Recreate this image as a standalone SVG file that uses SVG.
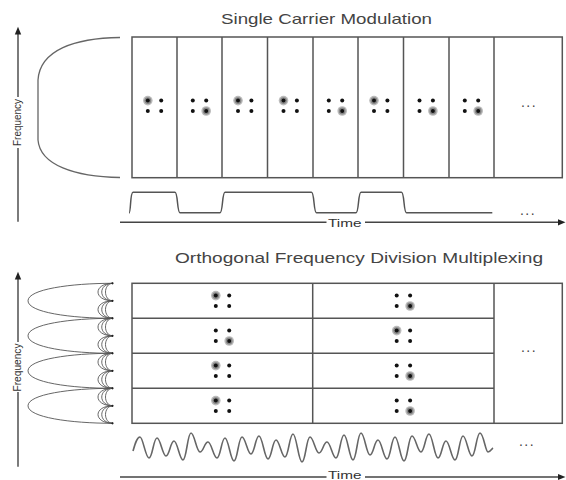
<svg xmlns="http://www.w3.org/2000/svg" xmlns:xlink="http://www.w3.org/1999/xlink" width="566" height="480" viewBox="0 0 566 480">
<style>
.bg{fill:#fff}
.grid{fill:none;stroke:#555;stroke-width:1.5}
.axis{fill:none;stroke:#444;stroke-width:1.4}
.head{fill:#222}
.curve{fill:none;stroke:#666;stroke-width:1.3}
.sinc{fill:none;stroke:#555;stroke-width:0.9}
.wave{fill:none;stroke:#666;stroke-width:1.6}
.title{font-family:"Liberation Sans",Arial,sans-serif;font-size:15px;fill:#444}
.lbl{font-family:"Liberation Sans",Arial,sans-serif;font-size:11.5px;fill:#333}
.dots{font-family:"Liberation Sans",Arial,sans-serif;font-size:14px;fill:#444;text-anchor:middle;letter-spacing:1.5px}
</style>
<defs>
<g id="dot"><circle r="2" fill="#111"/></g>
<g id="hl"><circle r="4.8" fill="#bbb"/><circle r="3.4" fill="#888"/><circle r="2" fill="#111"/></g>
<g id="ctl"><use xlink:href="#hl" x="-6.7" y="-5.2"/><use xlink:href="#dot" x="6.7" y="-5.2"/><use xlink:href="#dot" x="-6.7" y="5.2"/><use xlink:href="#dot" x="6.7" y="5.2"/></g>
<g id="cbr"><use xlink:href="#dot" x="-6.7" y="-5.2"/><use xlink:href="#dot" x="6.7" y="-5.2"/><use xlink:href="#dot" x="-6.7" y="5.2"/><use xlink:href="#hl" x="6.7" y="5.2"/></g>
<g id="arcs" class="sinc"><path d="M113,0 C93,0 93,17.5 113,17.5"/><path d="M113,0 C98,0 98,17.5 113,17.5"/><path d="M113,0 C103,0 103,17.5 113,17.5"/></g>
</defs>
<rect class="bg" width="566" height="480"/>

<g id="scm">
<text id="scm-title" class="title" x="221" y="24" textLength="211" lengthAdjust="spacingAndGlyphs">Single Carrier Modulation</text>
<g id="scm-freq-axis">
<line class="axis" x1="18" y1="33" x2="18" y2="97"/>
<line class="axis" x1="18" y1="148" x2="18" y2="221.7"/>
<polygon class="head" points="18,26.7 14.8,34.5 21.2,34.5"/>
<text class="lbl" x="20.5" y="122.5" text-anchor="middle" transform="rotate(-90 20.5 122.5)" textLength="47" lengthAdjust="spacingAndGlyphs">Frequency</text>
</g>
<path id="scm-spectrum" class="curve" d="M120,37.5 C75,38 40,50 38,80 L38,140 C40,165 75,177 120,177.5"/>
<g id="scm-grid">
<rect class="grid" x="132" y="37" width="430.3" height="140.7"/>
<path class="grid" d="M177,37V177.7M222,37V177.7M267.5,37V177.7M313,37V177.7M358,37V177.7M403.5,37V177.7M449,37V177.7M494,37V177.7"/>
</g>
<g id="scm-symbols">
<use xlink:href="#ctl" x="154.5" y="105.8"/>
<use xlink:href="#cbr" x="199.5" y="105.8"/>
<use xlink:href="#ctl" x="244.7" y="105.8"/>
<use xlink:href="#ctl" x="290.2" y="105.8"/>
<use xlink:href="#cbr" x="335.5" y="105.8"/>
<use xlink:href="#ctl" x="380.7" y="105.8"/>
<use xlink:href="#cbr" x="426.2" y="105.8"/>
<use xlink:href="#cbr" x="471.5" y="105.8"/>
<text class="dots" x="529" y="107">...</text>
</g>
<path id="scm-wave" class="grid" d="M129,213 C131,213 130,192.3 133,192.3 L175,192.3 C178,192.3 177,212.7 180,212.7 L220,212.7 C223,212.7 222,192.3 225,192.3 L311.5,192.3 C314.5,192.3 313.5,212.7 316.5,212.7 L356,212.7 C359,212.7 358,192.3 361,192.3 L401.5,192.3 C404.5,192.3 403.5,212.7 406.5,212.7 L492.3,212.7"/>
<text class="dots" x="528" y="215">...</text>
<g id="scm-time-axis">
<line class="axis" x1="120" y1="222.3" x2="326.5" y2="222.3"/>
<line class="axis" x1="365" y1="222.3" x2="559" y2="222.3"/>
<polygon class="head" points="565.5,222.3 558,219.2 558,225.4"/>
<text class="lbl" x="328" y="226.5" textLength="33.5" lengthAdjust="spacingAndGlyphs">Time</text>
</g>
</g>

<g id="ofdm">
<text id="ofdm-title" class="title" x="175" y="262.5" textLength="368" lengthAdjust="spacingAndGlyphs">Orthogonal Frequency Division Multiplexing</text>
<g id="ofdm-freq-axis">
<line class="axis" x1="18" y1="278" x2="18" y2="342"/>
<line class="axis" x1="18" y1="392" x2="18" y2="466.7"/>
<polygon class="head" points="18,271.7 14.8,279.5 21.2,279.5"/>
<text class="lbl" x="20.5" y="367.5" text-anchor="middle" transform="rotate(-90 20.5 367.5)" textLength="48" lengthAdjust="spacingAndGlyphs">Frequency</text>
</g>
<g id="ofdm-subcarriers">
<path class="sinc" d="M113,283.3 C70,283.3 28,289.3 28,300.8 C28,312.3 70,318.3 113,318.3"/>
<path class="sinc" d="M113,318.3 C70,318.3 28,324.3 28,335.8 C28,347.3 70,353.3 113,353.3"/>
<path class="sinc" d="M113,353.3 C70,353.3 28,359.3 28,370.8 C28,382.3 70,388.3 113,388.3"/>
<path class="sinc" d="M113,388.3 C70,388.3 28,394.3 28,405.8 C28,417.3 70,423.3 113,423.3"/>
<use xlink:href="#arcs" y="283.3"/>
<use xlink:href="#arcs" y="300.8"/>
<use xlink:href="#arcs" y="318.3"/>
<use xlink:href="#arcs" y="335.8"/>
<use xlink:href="#arcs" y="353.3"/>
<use xlink:href="#arcs" y="370.8"/>
<use xlink:href="#arcs" y="388.3"/>
<use xlink:href="#arcs" y="405.8"/>
<g fill="#222"><circle cx="112.5" cy="283.3" r="1.1"/><circle cx="112.5" cy="300.8" r="1.1"/><circle cx="112.5" cy="318.3" r="1.1"/><circle cx="112.5" cy="335.8" r="1.1"/><circle cx="112.5" cy="353.3" r="1.1"/><circle cx="112.5" cy="370.8" r="1.1"/><circle cx="112.5" cy="388.3" r="1.1"/><circle cx="112.5" cy="405.8" r="1.1"/><circle cx="112.5" cy="423.3" r="1.1"/></g>
</g>
<g id="ofdm-grid">
<rect class="grid" x="132" y="283.3" width="430.3" height="140"/>
<path class="grid" d="M132,318.3H494M132,353.3H494M132,388.3H494M312.7,283.3V423.3M494,283.3V423.3"/>
</g>
<g id="ofdm-symbols">
<use xlink:href="#ctl" x="222.5" y="300.8"/>
<use xlink:href="#cbr" x="222.5" y="335.8"/>
<use xlink:href="#ctl" x="222.5" y="370.8"/>
<use xlink:href="#ctl" x="222.5" y="405.8"/>
<use xlink:href="#cbr" x="403.4" y="300.8"/>
<use xlink:href="#ctl" x="403.4" y="335.8"/>
<use xlink:href="#cbr" x="403.4" y="370.8"/>
<use xlink:href="#cbr" x="403.4" y="405.8"/>
<text class="dots" x="529" y="352">...</text>
</g>
<path id="ofdm-wave" class="wave" d="M133,451 C135,444 137,437 140,437 S145.5,458 149,458 S153.5,438 157,438 S162.5,456 166,456 S170.5,441 174,441 S179.5,460 183,460 S187.5,433 191,433 S196.5,452 200,452 S204.5,442 208,442 S213.5,458 217,458 S221.5,438 225,438 S230.5,461 234,461 S238.5,437 242,437 S247.5,454 251,454 S255.5,436 259,436 S264.5,459 268,459 S272.5,440 276,440 S281.5,457 285,457 S289.5,434 293,434 S298.5,462 302,462 S306.5,437 310,437 S315.5,453 319,453 S323.5,442 327,442 S332.5,458 336,458 S340.5,435 344,435 S349.5,460 353,460 S357.5,433 361,433 S366.5,455 370,455 S374.5,440 378,440 S383.5,459 387,459 S391.5,437 395,437 S400.5,461 404,461 S408.5,436 412,436 S417.5,452 421,452 S425.5,434 429,434 S434.5,458 438,458 S442.5,441 446,441 S451.5,460 455,460 S459.5,436 463,436 S468.5,456 472,456 S476.5,433 480,433 S485.5,452 488,452 S491.5,449 493,448"/>
<text class="dots" x="527" y="446">...</text>
<g id="ofdm-time-axis">
<line class="axis" x1="120" y1="477" x2="326.5" y2="477"/>
<line class="axis" x1="365" y1="477" x2="559" y2="477"/>
<polygon class="head" points="565.5,477 558,473.9 558,480"/>
<text class="lbl" x="328" y="479.3" font-size="10.5" textLength="33.5" lengthAdjust="spacingAndGlyphs">Time</text>
</g>
</g>
</svg>
